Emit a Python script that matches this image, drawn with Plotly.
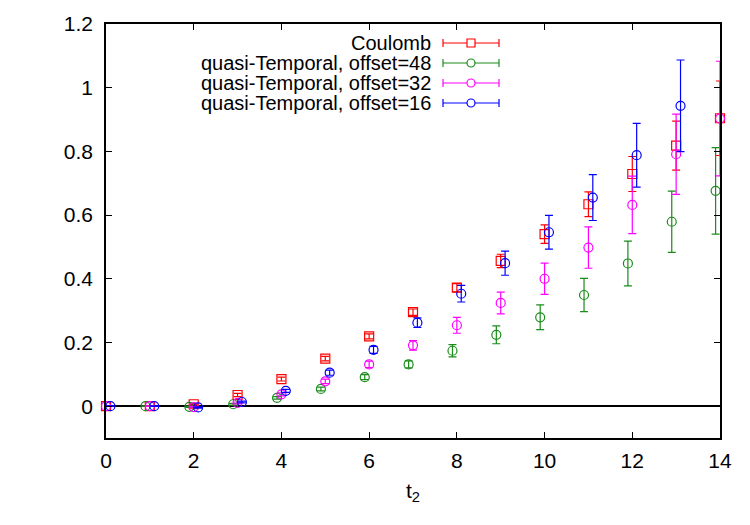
import plotly.graph_objects as go

t = list(range(15))

coulomb = [0.0, 0.0, 0.006, 0.035, 0.085, 0.149, 0.219, 0.295, 0.372, 0.456,
           0.540, 0.634, 0.729, 0.818, 0.904]
coulomb_err = [0.001, 0.001, 0.002, 0.005, 0.006, 0.007, 0.008, 0.010, 0.013,
               0.021, 0.029, 0.039, 0.055, 0.077, 0.117]

off48 = [0.0, 0.0, -0.002, 0.006, 0.026, 0.054, 0.091, 0.131, 0.174, 0.224,
         0.279, 0.349, 0.448, 0.579, 0.676]
off48_err = [0.001, 0.001, 0.002, 0.003, 0.004, 0.006, 0.008, 0.011, 0.019,
             0.028, 0.039, 0.052, 0.070, 0.096, 0.136]

off32 = [0.0, 0.0, -0.003, 0.010, 0.037, 0.078, 0.131, 0.191, 0.254, 0.324,
         0.400, 0.498, 0.632, 0.791, 0.903]
off32_err = [0.001, 0.001, 0.002, 0.003, 0.005, 0.007, 0.010, 0.015, 0.025,
             0.034, 0.049, 0.065, 0.090, 0.126, 0.180]

t16 = list(range(14))
off16 = [0.0, 0.0, -0.004, 0.013, 0.048, 0.105, 0.177, 0.262, 0.353, 0.449,
         0.546, 0.655, 0.788, 0.943]
off16_err = [0.001, 0.001, 0.002, 0.003, 0.005, 0.008, 0.011, 0.015, 0.026,
             0.038, 0.053, 0.072, 0.100, 0.144]

labels = ["Coulomb", "quasi-Temporal, offset=48",
          "quasi-Temporal, offset=32", "quasi-Temporal, offset=16"]
colors = ["#ff0000", "#1a8c1a", "#ff00ff", "#0000ff"]
symbols = ["square-open", "circle-open", "circle-open", "circle-open"]
shifts = [0.0, -0.1, 0.0, 0.1]

series = [(t, coulomb, coulomb_err), (t, off48, off48_err),
          (t, off32, off32_err), (t16, off16, off16_err)]

FONT = "Liberation Sans, Arial, sans-serif"
fig = go.Figure()
for (xs, ys, es), lab, col, sym, dx in zip(series, labels, colors, symbols, shifts):
    fig.add_trace(go.Scatter(
        x=[v + dx for v in xs], y=ys, mode="markers", name=lab,
        marker=dict(symbol=sym, size=9, color=col, line=dict(width=1.2, color=col)),
        error_y=dict(type="data", array=es, visible=True, color=col,
                     thickness=1.2, width=4),
        cliponaxis=False, showlegend=False))

# Legend (gnuplot style: text right-aligned, sample to the right)
L, R, T, B = 106, 720, 24, 438
W, H = R - L, B - T
def px(x):
    return (x - L) / W
def py(y):
    return (B - y) / H

rows = [43, 63, 83, 103]
shapes = []
annotations = []
for lab, col, sym, yy in zip(labels, colors, symbols, rows):
    annotations.append(dict(x=px(432), y=py(yy), xref="paper", yref="paper",
                            text=lab, showarrow=False, xanchor="right",
                            yanchor="middle", borderpad=0,
                            font=dict(family=FONT, size=20, color="black")))
    shapes.append(dict(type="line", xref="paper", yref="paper",
                       x0=px(443), x1=px(499), y0=py(yy), y1=py(yy),
                       line=dict(color=col, width=1.2)))
    for xe in (443, 499):
        shapes.append(dict(type="line", xref="paper", yref="paper",
                           x0=px(xe), x1=px(xe), y0=py(yy - 4), y1=py(yy + 4),
                           line=dict(color=col, width=1.2)))
    kind = "rect" if sym.startswith("square") else "circle"
    shapes.append(dict(type=kind, xref="paper", yref="paper",
                       xsizemode="pixel", ysizemode="pixel",
                       xanchor=px(471), yanchor=py(yy),
                       x0=-4, x1=4, y0=-4, y1=4,
                       fillcolor="white", line=dict(color=col, width=1.2)))

fig.update_layout(
    width=750, height=525,
    margin=dict(l=L, r=750 - R, t=T, b=525 - B),
    plot_bgcolor="white", paper_bgcolor="white",
    font=dict(family=FONT, size=21, color="black"),
    shapes=shapes, annotations=annotations,
    xaxis=dict(range=[0, 14], tickvals=[0, 2, 4, 6, 8, 10, 12, 14],
               ticks="inside", ticklen=6, tickwidth=1, tickcolor="black",
               showline=True, linecolor="black", linewidth=1.5, mirror="ticks",
               showgrid=False, zeroline=False, ticklabelstandoff=3,
               title=dict(text="t<sub>2</sub>", standoff=12,
                          font=dict(family=FONT, size=21))),
    yaxis=dict(range=[-0.1, 1.2], tickvals=[0, 0.2, 0.4, 0.6, 0.8, 1, 1.2],
               ticktext=["0", "0.2", "0.4", "0.6", "0.8", "1", "1.2"],
               ticks="inside", ticklen=6, tickwidth=1, tickcolor="black",
               showline=True, linecolor="black", linewidth=1.5, mirror="ticks",
               showgrid=False, zeroline=True, zerolinecolor="black",
               zerolinewidth=1.5, ticklabelstandoff=7),
)

fig.write_html("out.html")
